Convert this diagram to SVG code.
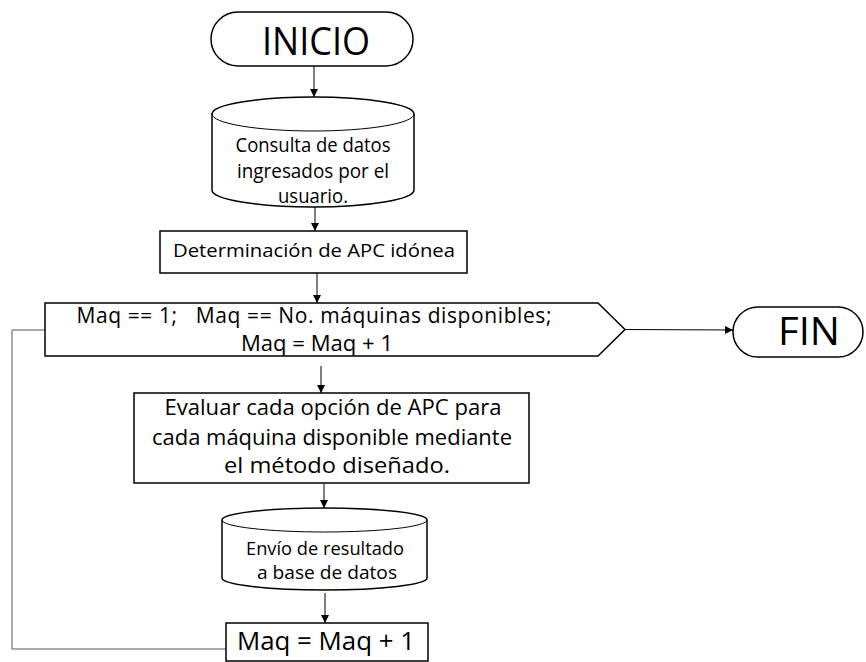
<svg xmlns="http://www.w3.org/2000/svg" width="866" height="662" viewBox="0 0 866 662">
  <defs>
    <marker id="arrow" viewBox="0 0 10 10" refX="10" refY="5" markerWidth="8" markerHeight="8" markerUnits="userSpaceOnUse" orient="auto">
      <path d="M0,0 L10,5 L0,10 Z" fill="#000"/>
    </marker>
    <style>
      .shape { fill: #fff; stroke: #000; stroke-width: 1.5; }
      .conn { fill: none; stroke: #000; stroke-width: 1; }
      .loop { fill: none; stroke: #555; stroke-width: 1; }
      text { font-family: "Open Sans", "Noto Sans", "Liberation Sans", sans-serif; fill: #000; text-anchor: middle; }
      .big { font-size: 39px; }
      .t18 { font-size: 18px; }
      .t20 { font-size: 20px; }
      .t22 { font-size: 21px; }
      .t26 { font-size: 25px; }
    </style>
  </defs>
  <rect width="866" height="662" fill="#fff"/>

  <!-- connectors -->
  <g id="connectors">
    <line class="conn" x1="314" y1="66" x2="314" y2="97" marker-end="url(#arrow)"/>
    <line class="conn" x1="315" y1="207" x2="315" y2="231" marker-end="url(#arrow)"/>
    <line class="conn" x1="317" y1="273" x2="317" y2="303" marker-end="url(#arrow)"/>
    <line class="conn" x1="625" y1="329.5" x2="733" y2="330" marker-end="url(#arrow)"/>
    <line class="conn" x1="321" y1="366" x2="321" y2="393" marker-end="url(#arrow)"/>
    <line class="conn" x1="324" y1="484" x2="324" y2="508" marker-end="url(#arrow)"/>
    <line class="conn" x1="325" y1="593" x2="325" y2="623" marker-end="url(#arrow)"/>
    <path class="loop" d="M226,649 L12,649 L12,330 L45,330"/>
  </g>

  <g id="inicio">
    <rect class="shape" x="211" y="12" width="202" height="54" rx="27" ry="27"/>
    <text class="big" x="316" y="55" textLength="108" lengthAdjust="spacingAndGlyphs">INICIO</text>
  </g>

  <g id="consulta">
    <path class="shape" d="M212,114 A101,17 0 0,1 414,114 L414,190 A101,17 0 0,1 212,190 Z"/>
    <path class="conn" stroke-width="1.5" d="M212,114 A101,17 0 0,0 414,114"/>
    <text class="t20" x="313" y="152" textLength="155" lengthAdjust="spacingAndGlyphs">Consulta de datos</text>
    <text class="t20" x="313" y="178" textLength="152" lengthAdjust="spacingAndGlyphs">ingresados por el</text>
    <text class="t20" x="313" y="203" textLength="70" lengthAdjust="spacingAndGlyphs">usuario.</text>
  </g>

  <g id="determinacion">
    <rect class="shape" x="160" y="231" width="307" height="42"/>
    <text class="t18" x="314" y="257" textLength="282" lengthAdjust="spacingAndGlyphs">Determinación de APC idónea</text>
  </g>

  <g id="bucle">
    <path class="shape" d="M45,303 L598,303 L625,329.5 L598,356 L45,356 Z"/>
    <text class="t22" x="314" y="323" textLength="475" lengthAdjust="spacing" xml:space="preserve">Maq == 1;   Maq == No. máquinas disponibles;</text>
    <text class="t22" x="317" y="351" textLength="152" lengthAdjust="spacingAndGlyphs">Maq = Maq + 1</text>
  </g>

  <g id="fin">
    <rect class="shape" x="733" y="307" width="130" height="50" rx="25" ry="25"/>
    <text class="big" x="809" y="345" textLength="62" lengthAdjust="spacingAndGlyphs">FIN</text>
  </g>

  <g id="evaluar">
    <rect class="shape" x="134" y="393" width="395" height="90"/>
    <text class="t22" x="333" y="415" textLength="337" lengthAdjust="spacingAndGlyphs">Evaluar cada opción de APC para</text>
    <text class="t22" x="332" y="445" textLength="360" lengthAdjust="spacingAndGlyphs">cada máquina disponible mediante</text>
    <text class="t22" x="337" y="473" textLength="226" lengthAdjust="spacingAndGlyphs">el método diseñado.</text>
  </g>

  <g id="envio">
    <path class="shape" d="M222,520 A102.5,12 0 0,1 427,520 L427,578 A102.5,12 0 0,1 222,578 Z"/>
    <path class="conn" stroke-width="1.5" d="M222,520 A102.5,12 0 0,0 427,520"/>
    <text class="t18" x="325" y="555" textLength="158" lengthAdjust="spacingAndGlyphs">Envío de resultado</text>
    <text class="t18" x="327" y="579" textLength="140" lengthAdjust="spacingAndGlyphs">a base de datos</text>
  </g>

  <g id="incremento">
    <rect class="shape" x="226" y="623" width="202" height="38"/>
    <text class="t26" x="326" y="650" textLength="178" lengthAdjust="spacingAndGlyphs">Maq = Maq + 1</text>
  </g>
</svg>
